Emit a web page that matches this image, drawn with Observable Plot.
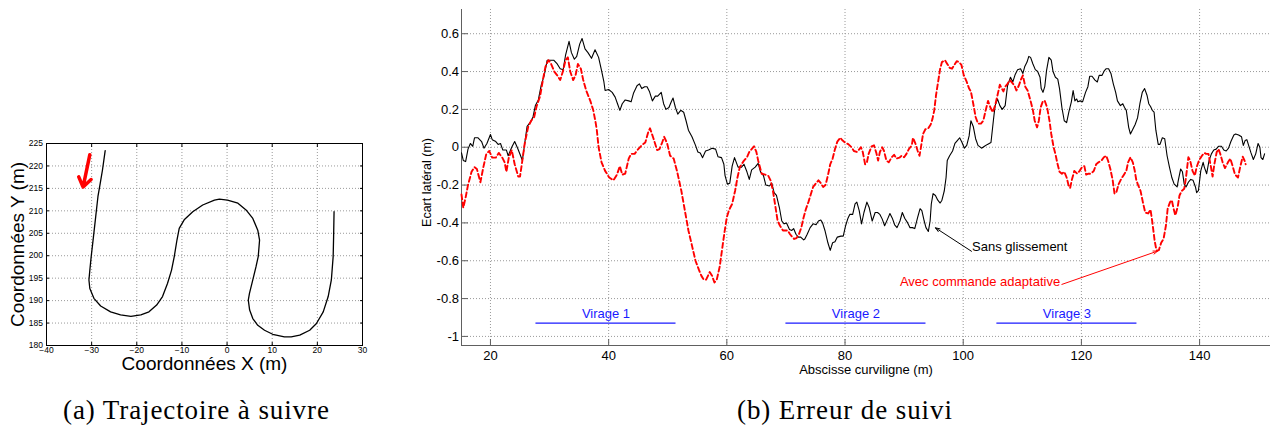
<!DOCTYPE html>
<html>
<head>
<meta charset="utf-8">
<script src="https://cdn.jsdelivr.net/npm/d3@7"></script>
<script src="https://cdn.jsdelivr.net/npm/@observablehq/plot@0.6"></script>
<style>
  body { margin: 0; background: #fff; }
  #fig { position: relative; width: 1270px; height: 426px; overflow: hidden; background: #fff; }
  #plotA { position: absolute; left: 0; top: 130px; }
  #plotB { position: absolute; left: 400px; top: 0; }
  .cap { position: absolute; top: 397px; font-family: "Liberation Serif", "Times New Roman", serif;
         font-size: 27px; line-height: 27px; letter-spacing: 0.9px; color: #000; white-space: nowrap; }
</style>
</head>
<body>
<div id="fig">
  <div id="plotA"></div>
  <div id="plotB"></div>
  <div class="cap" id="capA"></div>
  <div class="cap" id="capB"></div>
</div>
<script>
// ---------- (a) reference path in the plane ----------
const trajX = [-27.0, -27.6, -28.1, -28.6, -29.1, -29.6, -30.1, -30.4, -30.6, -30.4, -29.5, -28.0, -25.8, -23.6,
  -21.3, -19.1, -17.3, -15.6, -14.3, -13.2, -12.3, -11.7, -11.1, -10.6, -9.5, -7.6, -5.4, -2.8, -1.7, 0.1, 2.4,
  4.2, 5.7, 6.8, 7.2, 6.9, 6.4, 5.7, 4.96, 4.7, 5.0, 5.7, 6.8, 8.3, 10.1, 12.7, 14.2, 16.1, 18.3, 19.8, 21.3,
  22.4, 23.1, 23.5, 23.6, 23.7];
const trajY = [223.4, 219.1, 216.1, 213.2, 208.7, 204.2, 199.8, 196.8, 194.6, 192.7, 190.5, 188.8, 187.5, 186.8,
  186.5, 186.8, 187.5, 189.0, 190.9, 193.8, 196.8, 199.8, 203.5, 206.1, 208.0, 209.8, 211.3, 212.4, 212.6, 212.4,
  211.7, 210.2, 208.3, 205.7, 203.5, 199.8, 197.5, 194.6, 191.6, 190.1, 187.9, 186.0, 184.5, 183.4, 182.5, 181.9,
  181.9, 182.3, 183.4, 184.9, 187.5, 190.9, 194.6, 199.8, 204.2, 209.8];
// direction of travel
const startArrow = {x1: -30.4, y1: 222.5, x2: -31.9, y2: 215.3};
const xTicksA = [-40, -30, -20, -10, 0, 10, 20, 30];
const yTicksA = [180, 185, 190, 195, 200, 205, 210, 215, 220, 225];
const xDomainA = [-40, 30];
const yDomainA = [180, 225];

// ---------- (b) lateral error along the path ----------
const sansX = [15.1, 15.4, 15.8, 16.2, 16.6, 17.0, 17.3, 17.9, 18.5, 18.9, 19.4, 20.0, 20.3, 20.9, 21.3, 21.7,
  22.1, 22.7, 23.0, 23.6, 24.1, 24.6, 25.1, 25.4, 25.8, 26.2, 26.7, 27.2, 27.6, 28.1, 28.6, 29.1, 29.6, 30.2, 30.7,
  31.3, 31.8, 32.3, 32.7, 33.3, 33.7, 34.2, 34.6, 35.1, 35.5, 36.0, 36.5, 37.1, 37.7, 38.3, 38.8, 39.2, 39.4, 40.0,
  40.6, 41.1, 41.5, 41.9, 42.3, 42.8, 43.4, 43.8, 44.2, 44.8, 45.2, 45.6, 46.1, 46.5, 46.9, 47.4, 47.9, 48.3, 48.9,
  49.3, 49.7, 50.2, 50.6, 50.9, 51.3, 51.7, 52.2, 52.7, 53.1, 53.5, 54.1, 54.7, 55.1, 55.5, 55.9, 56.4, 56.9, 57.5,
  58.1, 58.5, 59.1, 59.5, 59.7, 60.1, 60.5, 60.9, 61.3, 61.9, 62.5, 62.9, 63.4, 63.8, 64.2, 64.8, 65.3, 65.7, 66.2,
  66.6, 67.2, 67.6, 68.0, 68.4, 68.9, 69.3, 69.7, 70.1, 70.6, 71.0, 71.3, 71.7, 72.1, 72.5, 73.0, 73.2, 73.6, 74.1,
  74.6, 75.1, 75.5, 75.9, 76.2, 76.6, 77.1, 77.5, 77.9, 78.3, 78.7, 79.3, 79.7, 80.1, 80.5, 80.8, 81.3, 81.7, 82.0,
  82.4, 82.8, 83.2, 83.7, 84.1, 84.6, 85.1, 85.5, 85.9, 86.3, 86.7, 87.2, 87.6, 88.0, 88.4, 88.8, 89.3, 89.7, 90.1,
  90.6, 91.0, 91.4, 91.8, 92.3, 92.7, 93.0, 93.4, 93.7, 94.1, 94.4, 94.6, 94.9, 95.3, 95.7, 96.1, 96.4, 96.8, 97.1,
  97.3, 97.7, 98.2, 98.6, 99.0, 99.4, 99.8, 100.2, 100.6, 101.0, 101.3, 101.7, 102.1, 102.5, 103.1, 103.6, 104.1,
  104.7, 105.1, 105.4, 105.8, 106.2, 106.6, 107.1, 107.5, 108.0, 108.4, 108.8, 109.2, 109.7, 110.1, 110.4, 110.8,
  111.1, 111.4, 111.8, 112.2, 112.6, 113.0, 113.2, 113.5, 113.8, 114.1, 114.5, 114.9, 115.2, 115.6, 116.0, 116.3,
  116.7, 117.1, 117.5, 117.9, 118.3, 118.6, 118.9, 119.2, 119.4, 119.8, 120.2, 120.7, 121.1, 121.4, 121.8, 122.3,
  122.7, 123.0, 123.5, 123.9, 124.2, 124.6, 125.0, 125.4, 125.8, 126.1, 126.6, 127.0, 127.3, 127.6, 128.0, 128.3,
  128.7, 129.1, 129.5, 129.9, 130.3, 130.7, 131.1, 131.4, 131.7, 132.0, 132.3, 132.6, 133.0, 133.3, 133.7, 134.1,
  134.5, 134.9, 135.3, 135.7, 136.2, 136.4, 136.8, 137.1, 137.4, 137.7, 138.1, 138.5, 138.9, 139.3, 139.5, 139.8,
  140.2, 140.6, 140.8, 141.2, 141.6, 142.0, 142.4, 142.8, 143.2, 143.7, 144.1, 144.5, 144.9, 145.3, 145.8, 146.1,
  146.6, 147.1, 147.4, 147.7, 148.0, 148.3, 148.7, 149.1, 149.5, 149.9, 150.2, 150.4, 150.7, 151.0];
const sansY = [-0.03, -0.07, -0.076, -0.01, 0.02, 0.005, 0.05, 0.05, 0.03, -0.005, 0.02, 0.067, 0.04, 0.03, 0.015,
  0.02, -0.015, -0.015, -0.045, 0, 0.03, -0.005, -0.045, -0.07, 0.02, 0.11, 0.13, 0.16, 0.22, 0.25, 0.33, 0.38,
  0.46, 0.46, 0.46, 0.44, 0.415, 0.41, 0.485, 0.56, 0.5, 0.465, 0.48, 0.545, 0.575, 0.52, 0.5, 0.47, 0.515, 0.475,
  0.405, 0.345, 0.3, 0.305, 0.29, 0.265, 0.23, 0.195, 0.23, 0.25, 0.245, 0.24, 0.285, 0.325, 0.335, 0.31, 0.32,
  0.32, 0.295, 0.245, 0.27, 0.27, 0.29, 0.23, 0.2, 0.21, 0.24, 0.26, 0.21, 0.175, 0.195, 0.185, 0.14, 0.09, 0.055,
  0.01, -0.025, -0.03, -0.055, -0.02, -0.015, -0.005, -0.01, -0.05, -0.055, -0.09, -0.15, -0.195, -0.19, -0.1,
  -0.055, -0.105, -0.105, -0.09, -0.13, -0.17, -0.12, -0.105, -0.085, -0.13, -0.15, -0.2, -0.205, -0.19, -0.24,
  -0.255, -0.32, -0.39, -0.405, -0.4, -0.435, -0.44, -0.43, -0.46, -0.475, -0.475, -0.49, -0.485, -0.46, -0.425,
  -0.405, -0.41, -0.39, -0.385, -0.4, -0.44, -0.505, -0.545, -0.505, -0.5, -0.475, -0.47, -0.47, -0.415, -0.375,
  -0.355, -0.355, -0.3, -0.29, -0.335, -0.405, -0.345, -0.29, -0.32, -0.39, -0.345, -0.345, -0.355, -0.38, -0.415,
  -0.38, -0.35, -0.375, -0.41, -0.425, -0.39, -0.345, -0.375, -0.4, -0.425, -0.425, -0.43, -0.37, -0.325, -0.335,
  -0.39, -0.425, -0.445, -0.39, -0.3, -0.245, -0.255, -0.28, -0.295, -0.28, -0.23, -0.16, -0.07, -0.045, -0.02,
  0.02, 0.035, 0.05, 0.025, -0.005, 0.01, 0.06, 0.14, 0.11, 0.045, 0.01, -0.005, 0.005, 0.015, 0.025, 0.14, 0.22,
  0.255, 0.22, 0.2, 0.22, 0.325, 0.37, 0.345, 0.385, 0.41, 0.415, 0.39, 0.425, 0.45, 0.48, 0.475, 0.44, 0.41, 0.4,
  0.37, 0.31, 0.29, 0.32, 0.405, 0.475, 0.46, 0.4, 0.37, 0.36, 0.31, 0.21, 0.14, 0.13, 0.19, 0.24, 0.3, 0.245,
  0.255, 0.24, 0.245, 0.24, 0.29, 0.32, 0.375, 0.375, 0.355, 0.345, 0.38, 0.38, 0.405, 0.415, 0.415, 0.39, 0.335,
  0.29, 0.245, 0.22, 0.23, 0.21, 0.195, 0.105, 0.07, 0.095, 0.12, 0.155, 0.23, 0.29, 0.31, 0.275, 0.23, 0.215,
  0.195, 0.185, 0.09, 0.015, 0.015, 0.05, 0.045, -0.045, -0.105, -0.16, -0.195, -0.21, -0.175, -0.115, -0.13,
  -0.195, -0.21, -0.185, -0.17, -0.175, -0.21, -0.24, -0.23, -0.125, -0.08, -0.105, -0.14, -0.07, -0.035, -0.015,
  -0.01, 0.005, 0.005, -0.015, -0.02, -0.005, 0.03, 0.065, 0.07, 0.065, 0.055, 0.01, 0.035, 0.04, 0.01, -0.03,
  -0.065, -0.035, 0.02, 0.0, -0.055, -0.065, -0.035];

const avecX = [15.1, 15.4, 15.8, 16.2, 16.8, 17.3, 17.7, 18.3, 18.8, 19.3, 19.8, 20.3, 20.9, 21.4, 22.0, 22.4,
  22.7, 23.1, 23.6, 24.1, 24.7, 25.0, 25.4, 25.8, 26.4, 26.9, 27.4, 27.8, 28.4, 28.9, 29.3, 29.8, 30.2, 30.8, 31.3,
  31.8, 32.3, 32.7, 33.1, 33.5, 34.0, 34.4, 34.8, 35.3, 35.7, 36.2, 36.9, 37.4, 37.8, 38.0, 38.3, 38.8, 39.4, 40.1,
  40.8, 41.4, 41.9, 42.3, 42.8, 43.4, 43.8, 44.4, 45.0, 45.6, 46.2, 46.7, 47.0, 47.6, 48.2, 48.6, 49.0, 49.4, 49.9,
  50.4, 51.0, 51.6, 52.3, 52.9, 53.5, 54.1, 54.7, 55.3, 55.7, 56.1, 56.5, 57.1, 57.5, 57.9, 58.3, 58.8, 59.2, 59.6,
  60.0, 60.4, 60.9, 61.4, 61.8, 62.2, 62.8, 63.4, 63.8, 64.2, 64.6, 65.0, 65.3, 65.9, 66.5, 67.0, 67.4, 67.8, 68.2,
  68.6, 69.0, 69.5, 69.9, 70.3, 70.7, 71.1, 71.4, 71.8, 72.2, 72.6, 73.0, 73.4, 73.8, 74.2, 74.6, 75.1, 75.5, 75.9,
  76.3, 76.7, 77.1, 77.5, 77.9, 78.3, 78.7, 79.2, 79.6, 80.0, 80.6, 81.1, 81.5, 82.0, 82.3, 82.7, 83.0, 83.4, 83.7,
  84.0, 84.5, 84.9, 85.3, 85.6, 85.9, 86.3, 86.6, 87.0, 87.4, 87.9, 88.3, 88.7, 89.2, 89.6, 90.0, 90.4, 90.8, 91.3,
  91.5, 91.9, 92.3, 92.6, 92.8, 93.2, 93.6, 94.1, 94.5, 94.8, 95.1, 95.4, 95.8, 96.1, 96.4, 96.9, 97.3, 97.7, 98.1,
  98.5, 98.9, 99.3, 99.7, 100.1, 100.6, 101.0, 101.3, 101.7, 102.1, 102.5, 103.0, 103.4, 103.8, 104.2, 104.6, 105.0,
  105.4, 105.8, 106.2, 106.8, 107.1, 107.5, 107.9, 108.3, 108.7, 109.0, 109.4, 109.8, 110.1, 110.5, 110.9, 111.4,
  111.8, 112.1, 112.5, 112.8, 113.1, 113.5, 113.8, 114.2, 114.6, 114.9, 115.3, 115.6, 115.9, 116.3, 116.7, 117.1,
  117.5, 117.9, 118.1, 118.4, 118.8, 119.3, 119.7, 120.1, 120.5, 120.8, 121.2, 121.6, 122.1, 122.5, 122.9, 123.4,
  123.8, 124.2, 124.5, 124.9, 125.3, 125.6, 125.9, 126.3, 126.7, 127.2, 127.6, 127.9, 128.3, 128.7, 129.0, 129.3,
  129.6, 130.0, 130.4, 130.8, 131.3, 131.7, 132.0, 132.4, 132.7, 133.1, 133.5, 133.9, 134.3, 134.6, 135.0, 135.3,
  135.6, 135.9, 136.3, 136.6, 137.0, 137.4, 137.7, 138.1, 138.4, 138.8, 139.2, 139.5, 139.9, 140.4, 140.8, 141.1,
  141.5, 141.9, 142.2, 142.5, 142.9, 143.2, 143.5, 143.9, 144.3, 144.8, 145.2, 145.6, 146.0, 146.5, 146.9, 147.3,
  147.6, 147.8];
const avecY = [-0.25, -0.32, -0.265, -0.2, -0.13, -0.105, -0.115, -0.185, -0.105, -0.035, -0.02, -0.055, -0.055,
  -0.03, -0.055, -0.08, -0.13, -0.055, -0.015, -0.09, -0.155, -0.155, -0.07, 0.02, 0.11, 0.14, 0.16, 0.215, 0.27,
  0.36, 0.425, 0.46, 0.445, 0.4, 0.38, 0.355, 0.405, 0.46, 0.475, 0.4, 0.355, 0.38, 0.44, 0.415, 0.355, 0.3, 0.245,
  0.195, 0.13, 0.09, 0.0, -0.08, -0.125, -0.16, -0.175, -0.145, -0.1, -0.145, -0.14, -0.06, -0.035, -0.035, -0.01,
  0.01, 0.025, 0.08, 0.1, 0.045, -0.015, -0.01, 0.02, 0.055, 0.02, -0.045, -0.06, -0.13, -0.23, -0.335, -0.44,
  -0.52, -0.6, -0.65, -0.68, -0.7, -0.7, -0.66, -0.68, -0.715, -0.7, -0.63, -0.54, -0.45, -0.37, -0.33, -0.3,
  -0.23, -0.16, -0.105, -0.075, -0.053, -0.025, -0.01, 0.005, -0.025, -0.07, -0.14, -0.145, -0.15, -0.175, -0.23,
  -0.31, -0.39, -0.415, -0.44, -0.44, -0.44, -0.46, -0.475, -0.485, -0.48, -0.46, -0.425, -0.37, -0.325, -0.29,
  -0.25, -0.21, -0.19, -0.175, -0.19, -0.21, -0.2, -0.15, -0.09, -0.06, -0.01, 0.03, 0.05, 0.035, 0.025, 0.015,
  0.0, -0.02, -0.025, -0.015, 0.0, -0.025, -0.09, -0.08, -0.035, 0.005, 0.01, -0.03, -0.07, -0.025, 0.0, -0.02,
  -0.07, -0.08, -0.053, -0.04, -0.06, -0.055, -0.045, -0.053, -0.035, -0.01, 0.01, 0.05, 0.02, -0.02, -0.045,
  -0.01, 0.07, 0.095, 0.1, 0.12, 0.15, 0.195, 0.275, 0.355, 0.415, 0.45, 0.46, 0.44, 0.42, 0.415, 0.435, 0.455,
  0.45, 0.435, 0.38, 0.345, 0.31, 0.295, 0.23, 0.16, 0.125, 0.125, 0.14, 0.195, 0.245, 0.21, 0.185, 0.22, 0.275,
  0.33, 0.295, 0.32, 0.335, 0.355, 0.34, 0.325, 0.3, 0.325, 0.36, 0.38, 0.32, 0.3, 0.245, 0.195, 0.14, 0.105, 0.14,
  0.21, 0.245, 0.245, 0.21, 0.14, 0.07, 0.0, -0.035, -0.08, -0.13, -0.14, -0.13, -0.16, -0.21, -0.215, -0.17,
  -0.125, -0.14, -0.125, -0.105, -0.1, -0.145, -0.14, -0.14, -0.125, -0.09, -0.08, -0.07, -0.053, -0.045, -0.07,
  -0.115, -0.175, -0.245, -0.24, -0.195, -0.17, -0.145, -0.125, -0.08, -0.053, -0.08, -0.12, -0.175, -0.2, -0.23,
  -0.29, -0.345, -0.35, -0.33, -0.395, -0.495, -0.545, -0.545, -0.505, -0.485, -0.415, -0.325, -0.29, -0.28,
  -0.325, -0.36, -0.315, -0.255, -0.23, -0.22, -0.16, -0.053, -0.07, -0.125, -0.15, -0.105, -0.07, -0.045, -0.03,
  -0.035, -0.035, -0.1, -0.155, -0.09, -0.025, -0.01, -0.035, -0.08, -0.11, -0.08, -0.06, -0.1, -0.145, -0.16,
  -0.1, -0.05, -0.07, -0.09];

// bends of the path, drawn as intervals of curvilinear abscissa
const virageLabels = ["Virage 1", "Virage 2", "Virage 3"];
const virageStart = [27.7, 70.0, 105.7];
const virageEnd = [51.4, 93.7, 129.4];
const virageLevel = -0.93;
const virageLabelLevel = -0.883;

// callouts naming each curve
const noteTexts = ["Sans glissement", "Avec commande adaptative"];
const noteColors = ["black", "red"];
const noteAnchors = ["start", "end"];
const noteTextX = [101.5, 116.4];
const noteTextY = [-0.525, -0.71];
const noteTailX = [101.4, 116.7];
const noteTailY = [-0.55, -0.725];
const noteHeadX = [95.3, 132.9];
const noteHeadY = [-0.426, -0.549];

const xTicksB = [20, 40, 60, 80, 100, 120, 140];
const yTicksB = [-1, -0.8, -0.6, -0.4, -0.2, 0, 0.2, 0.4, 0.6];
const yTickLabelsB = ["-1", "-0.8", "-0.6", "-0.4", "-0.2", "0", "0.2", "0.4", "0.6"];
const xDomainB = [15.1, 152];
const yDomainB = [-1.048, 0.728];

const captionA = "(a) Trajectoire à suivre";
const captionB = "(b) Erreur de suivi";

// ---------- drawing ----------
const sansSerif = "'Liberation Sans', Arial, Helvetica, sans-serif";
const gridStyle = {stroke: "#9a9a9a", strokeOpacity: 1, strokeWidth: 1, strokeDasharray: "1,2"};

const traj = trajX.map((x, i) => ({x, y: trajY[i]}));

const chartA = Plot.plot({
  width: 380, height: 250,
  marginLeft: 46, marginRight: 18, marginTop: 13, marginBottom: 35,
  x: {domain: xDomainA},
  y: {domain: yDomainA},
  style: {fontFamily: sansSerif, fontSize: "8.5px", color: "black", background: "white"},
  marks: [
    Plot.gridX(xTicksA, gridStyle),
    Plot.gridY(yTicksA, gridStyle),
    Plot.axisX(xTicksA, {tickSize: -3, tickPadding: 4.5, fontSize: 8.5, label: null}),
    Plot.axisY(yTicksA, {tickSize: -3, tickPadding: 6.5, fontSize: 8.5, label: null}),
    Plot.axisX(xTicksA, {anchor: "top", tickSize: -3, tickFormat: () => "", label: null}),
    Plot.axisY(yTicksA, {anchor: "right", tickSize: -3, tickFormat: () => "", label: null}),
    Plot.frame({stroke: "black", strokeWidth: 1}),
    Plot.line(traj, {x: "x", y: "y", stroke: "black", strokeWidth: 1.3}),
    Plot.arrow([startArrow], {x1: "x1", y1: "y1", x2: "x2", y2: "y2", stroke: "red",
      strokeWidth: 3.5, headLength: 8, headAngle: 70}),
    Plot.text(["Coordonnées X (m)"], {text: d => d, frameAnchor: "bottom", dy: 24, fontSize: 19}),
    Plot.text(["Coordonnées Y (m)"], {text: d => d, frameAnchor: "left", textAnchor: "middle",
      rotate: -90, dx: -29, fontSize: 19})
  ]
});
document.getElementById("plotA").append(chartA);

const sans = sansX.map((x, i) => ({x, y: sansY[i]}));
const avec = avecX.map((x, i) => ({x, y: avecY[i]}));
const virages = virageLabels.map((label, i) => ({label, x1: virageStart[i], x2: virageEnd[i],
  xm: (virageStart[i] + virageEnd[i]) / 2}));
const notes = noteTexts.map((text, i) => ({text, color: noteColors[i], anchor: noteAnchors[i],
  tx: noteTextX[i], ty: noteTextY[i], x1: noteTailX[i], y1: noteTailY[i], x2: noteHeadX[i], y2: noteHeadY[i]}));

const chartB = Plot.plot({
  width: 870, height: 380,
  marginLeft: 61, marginRight: 0, marginTop: 9, marginBottom: 35,
  x: {domain: xDomainB},
  y: {domain: yDomainB},
  style: {fontFamily: sansSerif, fontSize: "13px", color: "black", background: "white"},
  marks: [
    Plot.gridX(xTicksB, gridStyle),
    Plot.gridY(yTicksB, gridStyle),
    Plot.ruleX([xDomainB[0]], {stroke: "#606060"}),
    Plot.ruleY([yDomainB[0]], {stroke: "#606060"}),
    Plot.axisX(xTicksB, {tickSize: -6, tickPadding: 11, stroke: "#606060", fill: "black", label: null}),
    Plot.axisY(yTicksB, {tickSize: -7, tickPadding: 9.5, stroke: "#606060", fill: "black", label: null,
      tickFormat: (d, i) => yTickLabelsB[i]}),
    Plot.line(sans, {x: "x", y: "y", stroke: "black", strokeWidth: 1.1}),
    Plot.line(avec, {x: "x", y: "y", stroke: "#ff0000", strokeWidth: 1.9, strokeDasharray: "5,3"}),
    Plot.ruleY(virages, {x1: "x1", x2: "x2", y: () => virageLevel, stroke: "#1a1aff", strokeWidth: 1.2}),
    Plot.text(virages, {x: "xm", y: () => virageLabelLevel, text: "label", fill: "#1a1aff", fontSize: 13}),
    Plot.arrow(notes, {x1: "x1", y1: "y1", x2: "x2", y2: "y2", stroke: "color", strokeWidth: 1,
      headLength: 7, headAngle: 40}),
    Plot.text(notes.filter(d => d.anchor === "start"), {x: "tx", y: "ty", text: "text", fill: "color",
      textAnchor: "start", fontSize: 13}),
    Plot.text(notes.filter(d => d.anchor === "end"), {x: "tx", y: "ty", text: "text", fill: "color",
      textAnchor: "end", fontSize: 13}),
    Plot.text(["Abscisse curviligne (m)"], {text: d => d, frameAnchor: "bottom", dy: 28, fontSize: 13}),
    Plot.text(["Ecart latéral (m)"], {text: d => d, frameAnchor: "left", textAnchor: "middle",
      rotate: -90, dx: -35, dy: 5, fontSize: 12.5})
  ]
});
document.getElementById("plotB").append(chartB);

const capA = document.getElementById("capA");
capA.textContent = captionA;
capA.style.left = "63px";
const capB = document.getElementById("capB");
capB.textContent = captionB;
capB.style.left = "737px";
</script>
</body>
</html>
